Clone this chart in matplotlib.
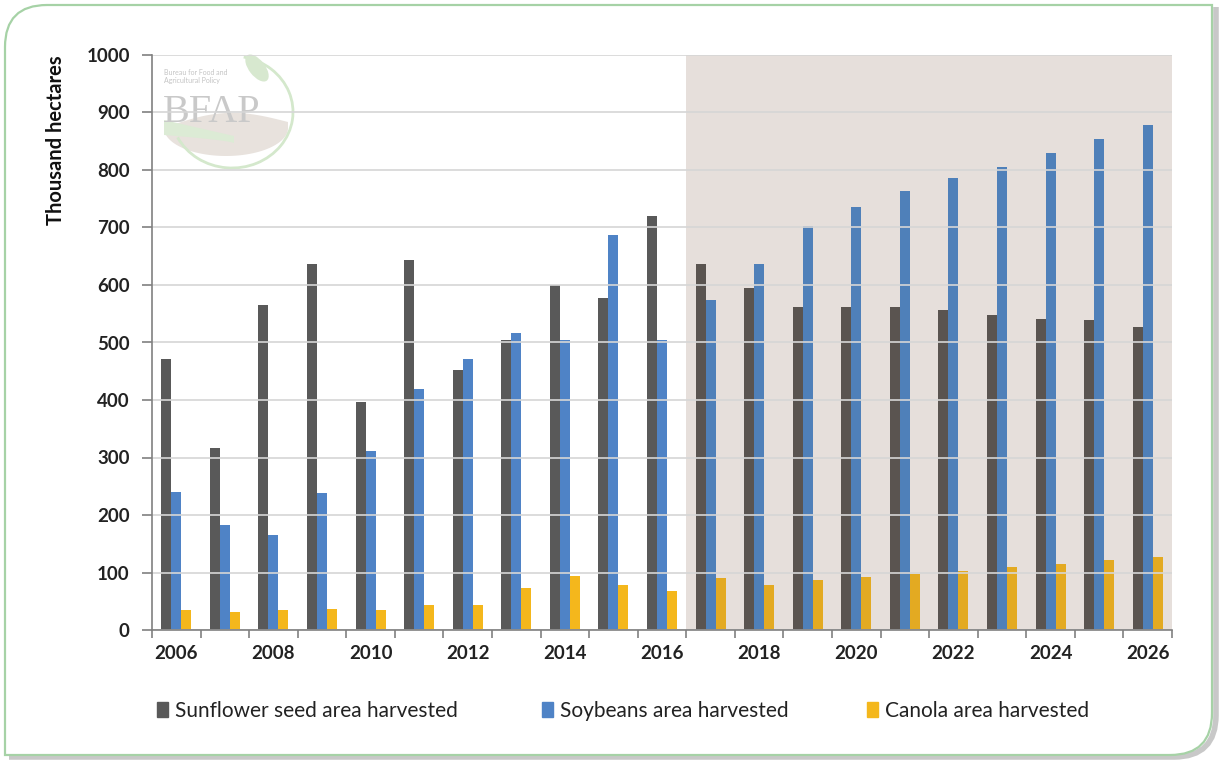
import numpy as np
import matplotlib
matplotlib.use("Agg")
import matplotlib.pyplot as plt
from matplotlib.patches import Patch, Arc, Ellipse, PathPatch, Polygon
from matplotlib.path import Path

years = list(range(2006, 2027))
sunflower = [472, 317, 565, 637, 397, 643, 453, 505, 600, 577, 720,
             636, 594, 562, 561, 561, 556, 547, 541, 539, 527]
soybeans = [240, 183, 166, 238, 311, 419, 472, 517, 504, 687, 504,
            574, 636, 703, 736, 763, 786, 806, 830, 854, 878]
canola = [34, 32, 34, 36, 34, 44, 44, 73, 94, 78, 68,
          90, 79, 87, 93, 97, 103, 109, 115, 121, 127]
labels = ["Sunflower seed area harvested", "Soybeans area harvested",
          "Canola area harvested"]
colors = ["#595959", "#4f83c6", "#f4b71c"]
colors_proj = ["#5a5450", "#4f80b9", "#e3aa22"]  # look of bars in the shaded part
projection_start = 2017

plt.rcParams['font.family'] = ['Lato', 'DejaVu Sans']

fig = plt.figure(figsize=(12.2, 7.6), dpi=100)
ax = fig.add_axes([152 / 1220, 1 - 630 / 760, 1020 / 1220, 575 / 760])
ax.patch.set_alpha(0)

x = np.arange(len(years))
w = 0.205
proj = np.array(years) >= projection_start
for i, vals in enumerate([sunflower, soybeans, canola]):
    cols = [colors_proj[i] if p else colors[i] for p in proj]
    ax.bar(x + (i - 1) * w, vals, width=w, color=cols, zorder=2)

# shaded projection period
p0 = years.index(projection_start) - 0.5
ax.axvspan(p0, len(years) - 0.5, color="#e6dfdb", zorder=0.5, lw=0)

ax.set_xlim(-0.5, len(years) - 0.5)
ax.set_ylim(0, 1000)
ax.set_yticks(range(0, 1001, 100))
ax.yaxis.grid(True, color="#d6d6d6", lw=1.2, zorder=0.8)
ax.set_axisbelow(False)

ax.set_xticks(x[::2])
ax.set_xticklabels([str(y) for y in years[::2]])
ax.set_xticks(np.arange(-0.5, len(years), 1), minor=True)
ax.tick_params(axis='x', which='major', length=0, pad=11)
ax.tick_params(axis='x', which='minor', length=6, color="#808080", width=1.2)
ax.tick_params(axis='y', length=7, color="#808080", width=1.2, pad=9)
ax.tick_params(labelsize=13.5, labelcolor="#222222")
for lab in ax.get_xticklabels() + ax.get_yticklabels():
    lab.set_fontweight('bold')

for s in ['top', 'right']:
    ax.spines[s].set_visible(False)
for s in ['left', 'bottom']:
    ax.spines[s].set_color("#808080")
    ax.spines[s].set_linewidth(1.2)
    ax.spines[s].set_zorder(3)

fig.text(56 / 1220, 1 - 140 / 760, "Thousand hectares", rotation=90,
         ha='center', va='center', fontsize=14.5, fontweight='bold',
         color="#111111")

# faint BFAP logo (pixel coordinates, y measured from the top), under the axes
H = 760
t = np.linspace(0, np.pi, 60)
brown = [(226 + 62 * np.cos(a), H - (128 + 28 * np.sin(a))) for a in t]
brown += [(226 - 62 + 124 * s, H - (128 - 12 * np.sin(np.pi * s) - 6 * s))
          for s in np.linspace(0, 1, 30)]
fig.patches.append(Polygon(brown, closed=True, transform=None,
                           fc="#e8e2dd", ec="none", zorder=-1))
green = [(164 + 70 * s, H - (120 + 16 * s)) for s in np.linspace(0, 1, 20)]
green += [(234 - 70 * s, H - (143 - 8 * s ** 0.7)) for s in np.linspace(0, 1, 20)]
fig.patches.append(Polygon(green, closed=True, transform=None,
                           fc="#dcebd5", ec="none", zorder=-1))
fig.patches.append(Arc((232, H - 112), 122, 112, theta1=205, theta2=78,
                       transform=None, color="#d4e8cc", lw=2, zorder=-1))
fig.patches.append(Ellipse((257, H - 68), 16, 32, angle=38, transform=None,
                           color="#d7e8cf", lw=0, zorder=-1))
fig.text(163 / 1220, 1 - 122 / 760, "BFAP", fontsize=29,
         family=['Liberation Serif', 'DejaVu Serif'], color="#c9c9c9",
         va='baseline', zorder=-0.5)
fig.text(164 / 1220, 1 - 84 / 760, "Bureau for Food and\nAgricultural Policy",
         fontsize=5, color="#c4c4c4", va='bottom', linespacing=1.1, zorder=-0.5)

# legend entries placed individually
for lab, c, xp in zip(labels, colors, [157, 542, 867]):
    fig.legend([Patch(color=c)], [lab], loc='center left',
               bbox_to_anchor=(xp / 1220, 1 - 711 / 760), frameon=False,
               fontsize=15, handlelength=0.55, handleheight=0.75,
               handletextpad=0.3, borderpad=0, borderaxespad=0,
               labelcolor="#222222")

# frame: rounded top-left and bottom-right corners, grey shadow on right
L, R, B, T, r = 5, 1212, 5, 755, 42
verts = [(L, B), (R - r, B), (R, B), (R, B + r), (R, T), (L + r, T),
         (L, T), (L, T - r), (L, B)]
codes = [Path.MOVETO, Path.LINETO, Path.CURVE3, Path.CURVE3, Path.LINETO,
         Path.LINETO, Path.CURVE3, Path.CURVE3, Path.CLOSEPOLY]
shadow = PathPatch(Path([(v[0] + 4, v[1] - 2) for v in verts[:5]], codes[:5]),
                   transform=None, fill=False, ec="#c8c8c8", lw=4, zorder=-3)
frame = PathPatch(Path(verts, codes), transform=None, fc="white",
                  ec="#a6d2a6", lw=1.6, zorder=-2)
fig.patches.extend([shadow, frame])

fig.savefig("out.png", dpi=100)
